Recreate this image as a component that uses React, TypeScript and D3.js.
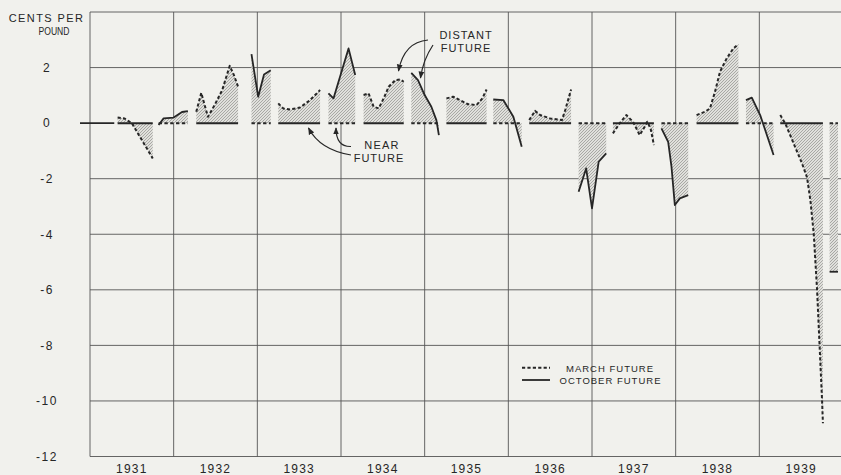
import React from 'react';
import * as d3 from 'd3';

const W = 841;
const H = 475;

// x axis: calendar years
const yearLabels = [1931, 1932, 1933, 1934, 1935, 1936, 1937, 1938, 1939];
// y axis: cents per pound
const yTickValues = [2, 0, -2, -4, -6, -8, -10, -12];
const yGridValues = [4, 2, -2, -4, -6, -8, -10, -12];

// Near-future line with no distant quotation, early 1931 (October near)
const nearOnly1931: [number, number] = [1931.0, 1931.29];

// Distant future = MARCH (dashed curve), near future = OCTOBER (solid zero line); [year, cents]
const march1931: [number, number][] = [[1931.33, 0.2], [1931.41, 0.17], [1931.5, 0], [1931.75, -1.27]];
const march1932: [number, number][] = [[1932.27, 0.41], [1932.33, 1.09], [1932.37, 0.65], [1932.41, 0.23], [1932.49, 0.65], [1932.58, 1.19], [1932.67, 2.06], [1932.72, 1.73], [1932.77, 1.31]];
const march1933: [number, number][] = [[1933.25, 0.71], [1933.31, 0.53], [1933.39, 0.49], [1933.51, 0.56], [1933.63, 0.83], [1933.75, 1.19]];
const march1934: [number, number][] = [[1934.27, 1.01], [1934.33, 1.07], [1934.39, 0.59], [1934.45, 0.53], [1934.51, 0.89], [1934.57, 1.31], [1934.65, 1.55], [1934.71, 1.57], [1934.75, 1.49]];
const march1935: [number, number][] = [[1935.26, 0.89], [1935.34, 0.95], [1935.42, 0.83], [1935.52, 0.68], [1935.62, 0.65], [1935.69, 0.89], [1935.74, 1.21]];
const march1936: [number, number][] = [[1936.25, 0.11], [1936.32, 0.44], [1936.38, 0.29], [1936.5, 0.17], [1936.64, 0.11], [1936.68, 0.47], [1936.75, 1.21]];
const march1937: [number, number][] = [[1937.25, -0.37], [1937.33, -0.01], [1937.41, 0.29], [1937.49, 0.05], [1937.57, -0.43], [1937.63, -0.13], [1937.66, 0.05], [1937.7, -0.19], [1937.74, -0.79]];
const march1938: [number, number][] = [[1938.25, 0.29], [1938.35, 0.41], [1938.41, 0.53], [1938.47, 1.13], [1938.53, 1.85], [1938.61, 2.33], [1938.69, 2.69], [1938.75, 2.84]];
const march1939: [number, number][] = [[1939.25, 0.29], [1939.31, -0.01], [1939.41, -0.73], [1939.51, -1.45], [1939.57, -1.95], [1939.61, -2.77], [1939.65, -3.97], [1939.69, -6.0], [1939.72, -8.0], [1939.75, -10.0], [1939.76, -10.8]];

// Distant future = OCTOBER (solid curve), near future = MARCH (dashed zero line)
const oct1931: [number, number][] = [[1931.82, -0.07], [1931.88, 0.17], [1932.0, 0.2], [1932.1, 0.4], [1932.17, 0.43]];
const oct1932: [number, number][] = [[1932.93, 2.48], [1933.01, 0.95], [1933.08, 1.75], [1933.16, 1.9]];
const oct1933: [number, number][] = [[1933.85, 1.07], [1933.91, 0.89], [1934.09, 2.69], [1934.17, 1.73]];
const oct1934: [number, number][] = [[1934.84, 1.81], [1934.92, 1.55], [1935.0, 1.01], [1935.08, 0.59], [1935.14, 0.11], [1935.17, -0.43]];
const oct1935: [number, number][] = [[1935.82, 0.85], [1935.94, 0.83], [1936.06, 0.23], [1936.16, -0.85]];
const oct1936: [number, number][] = [[1936.84, -2.47], [1936.93, -1.63], [1937.0, -3.07], [1937.08, -1.39], [1937.17, -1.09]];
const oct1937: [number, number][] = [[1937.83, -0.19], [1937.91, -0.67], [1937.95, -1.57], [1937.99, -2.95], [1938.05, -2.71], [1938.15, -2.59]];
const oct1938: [number, number][] = [[1938.84, 0.83], [1938.91, 0.92], [1939.01, 0.29], [1939.17, -1.15]];
const oct1939: [number, number][] = [[1939.84, -5.35], [1939.94, -5.35]];

const marchSegments = [march1931, march1932, march1933, march1934, march1935, march1936, march1937, march1938, march1939];
const octSegments = [oct1931, oct1932, oct1933, oct1934, oct1935, oct1936, oct1937, oct1938, oct1939];

const FONT = '"Liberation Sans", Arial, sans-serif';
const INK = '#262626';
const GRID = '#555555';
const BG = '#f1f1ed';

export default function App() {
  const x = d3.scaleLinear().domain([1931, 1940]).range([90, 843]);
  const y = d3.scaleLinear().domain([-12, 4]).range([456.5, 12]);
  const y0 = y(0);

  const area = d3
    .area<[number, number]>()
    .x((d) => x(d[0]))
    .y0(y0)
    .y1((d) => y(d[1]));
  const line = d3
    .line<[number, number]>()
    .x((d) => x(d[0]))
    .y((d) => y(d[1]));

  const dashCurve = '3.2,2.2';
  const dashBase = '3.4,2.4';

  const segs = [
    ...marchSegments.map((pts) => ({ pts, curveDashed: true })),
    ...octSegments.map((pts) => ({ pts, curveDashed: false })),
  ];

  const txt = {
    fontFamily: FONT,
    fill: INK,
  } as const;

  return (
    <svg
      width={W}
      height={H}
      style={{ position: 'absolute', left: 0, top: 0, display: 'block', background: BG }}
    >
      <defs>
        <pattern id="hatch" width="3" height="3" patternUnits="userSpaceOnUse">
          <rect width="3" height="3" fill="#e0e0dc" />
          <path d="M-1,1 l2,-2 M0,3 l3,-3 M2,4 l2,-2" stroke="#959591" strokeWidth="0.75" />
        </pattern>
        <marker id="arrow" viewBox="0 0 10 10" refX="9" refY="5" markerWidth="6" markerHeight="6" orient="auto">
          <path d="M0,1 L10,5 L0,9 Z" fill={INK} />
        </marker>
      </defs>
      <rect x={0} y={0} width={W} height={H} fill={BG} />

      {/* grid */}
      <g stroke={GRID} strokeWidth={0.9}>
        {yGridValues.map((v) => (
          <line key={'h' + v} x1={x(1931)} x2={W} y1={y(v)} y2={y(v)} />
        ))}
        {yearLabels.map((yr) => (
          <line key={'v' + yr} x1={x(yr)} x2={x(yr)} y1={y(4)} y2={y(-12)} />
        ))}
      </g>

      {/* hatched spreads */}
      {segs.map((s, i) => (
        <path key={'a' + i} d={area(s.pts) || ''} fill="url(#hatch)" stroke="none" />
      ))}

      {/* near-future zero lines */}
      <line x1={x(nearOnly1931[0]) - 10} x2={x(nearOnly1931[1])} y1={y0} y2={y0} stroke={INK} strokeWidth={1.8} />
      {segs.map((s, i) => (
        <line
          key={'b' + i}
          x1={x(s.pts[0][0])}
          x2={x(s.pts[s.pts.length - 1][0])}
          y1={y0}
          y2={y0}
          stroke={INK}
          strokeWidth={2}
          strokeDasharray={s.curveDashed ? undefined : dashBase}
        />
      ))}

      {/* distant-future curves */}
      {segs.map((s, i) => (
        <path
          key={'c' + i}
          d={line(s.pts) || ''}
          fill="none"
          stroke={INK}
          strokeWidth={s.curveDashed ? 2 : 1.8}
          strokeDasharray={s.curveDashed ? dashCurve : undefined}
          strokeLinejoin="round"
        />
      ))}

      {/* y tick labels */}
      {yTickValues.map((v) => (
        <text key={'yl' + v} x={47} y={y(v) + 4.3} textAnchor="middle" fontSize={12} letterSpacing={1.5} style={txt}>
          {v}
        </text>
      ))}
      <text x={46.5} y={21.7} textAnchor="middle" fontSize={11} letterSpacing={1.4} style={txt}>
        CENTS PER
      </text>
      <g transform="translate(54,35) scale(0.78,1)">
        <text x={0} y={0} textAnchor="middle" fontSize={11} letterSpacing={0} style={txt}>
          POUND
        </text>
      </g>

      {/* x labels */}
      {yearLabels.map((yr) => (
        <text key={'xl' + yr} x={x(yr + 0.5)} y={473} textAnchor="middle" fontSize={12} letterSpacing={1.2} style={txt}>
          {yr}
        </text>
      ))}

      {/* annotations */}
      <text x={466} y={39} textAnchor="middle" fontSize={11} letterSpacing={1} style={txt}>DISTANT</text>
      <text x={466} y={52.3} textAnchor="middle" fontSize={11} letterSpacing={1} style={txt}>FUTURE</text>
      <path d="M428,40 Q404,42 398.5,71" fill="none" stroke={INK} strokeWidth={1.2} markerEnd="url(#arrow)" />
      <path d="M433,45 Q423,60 420.5,78" fill="none" stroke={INK} strokeWidth={1.2} markerEnd="url(#arrow)" />

      <text x={382} y={148.5} textAnchor="middle" fontSize={11} letterSpacing={1.2} style={txt}>NEAR</text>
      <text x={379} y={161.5} textAnchor="middle" fontSize={11} letterSpacing={1} style={txt}>FUTURE</text>
      <path d="M351,155 Q320,150 308.5,128" fill="none" stroke={INK} strokeWidth={1.2} markerEnd="url(#arrow)" />
      <path d="M351,146.5 Q336,147 336,128" fill="none" stroke={INK} strokeWidth={1.2} markerEnd="url(#arrow)" />

      {/* legend */}
      <line x1={522} x2={550} y1={367.7} y2={367.7} stroke={INK} strokeWidth={2} strokeDasharray={dashCurve} />
      <text x={610} y={371.5} textAnchor="middle" fontSize={9.5} letterSpacing={1} style={txt}>MARCH FUTURE</text>
      <line x1={522} x2={550} y1={380} y2={380} stroke={INK} strokeWidth={1.8} />
      <text x={610.5} y={384} textAnchor="middle" fontSize={9.5} letterSpacing={1} style={txt}>OCTOBER FUTURE</text>
    </svg>
  );
}
